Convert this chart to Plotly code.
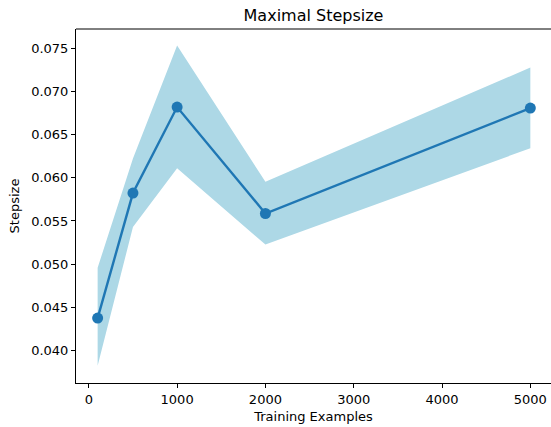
import plotly.graph_objects as go

train_examples = [100, 500, 1000, 2000, 5000]
mean_stepsize = [0.04375, 0.05823, 0.06819, 0.05586, 0.06807]
upper_bound = [0.04958, 0.06224, 0.07531, 0.05954, 0.07277]
lower_bound = [0.03823, 0.05430, 0.06109, 0.05227, 0.06342]
x_ticks = [0, 1000, 2000, 3000, 4000, 5000]
y_ticks = [0.040, 0.045, 0.050, 0.055, 0.060, 0.065, 0.070, 0.075]

W, H = 551, 427
ML, MR, MT, MB = 76, 0, 29, 44

font_family = "DejaVu Sans"
fig = go.Figure()

# confidence band
fig.add_trace(go.Scatter(
    x=train_examples + train_examples[::-1],
    y=upper_bound + lower_bound[::-1],
    fill="toself", fillcolor="#add8e6",
    line=dict(width=0, color="#add8e6"),
    mode="lines", hoverinfo="skip", showlegend=False,
))

fig.add_trace(go.Scatter(
    x=train_examples, y=mean_stepsize,
    mode="lines+markers",
    line=dict(color="#1f77b4", width=2.4),
    marker=dict(color="#1f77b4", size=11),
    showlegend=False,
))

axis_common = dict(
    showgrid=False, zeroline=False,
    showline=True, linecolor="black", linewidth=1,
    ticks="outside", ticklen=4, tickwidth=1, tickcolor="black",
    tickfont=dict(family=font_family, size=13, color="black"),
)

fig.update_layout(
    width=W, height=H, autosize=False,
    margin=dict(l=ML, r=MR, t=MT, b=MB, pad=0),
    paper_bgcolor="white", plot_bgcolor="white",
    font=dict(family=font_family, color="black"),
    title=dict(
        text="Maximal Stepsize",
        font=dict(family=font_family, size=16, color="black"),
        x=0.5, xref="paper", xanchor="center",
        y=1 - 15.5 / H, yref="container", yanchor="middle",
    ),
    xaxis=dict(
        **axis_common,
        range=[-145, 5234],
        tickvals=x_ticks,
        ticktext=[str(v) for v in x_ticks],
        title=dict(text="Training Examples",
                   font=dict(family=font_family, size=13, color="black"),
                   standoff=6),
    ),
    yaxis=dict(
        **axis_common,
        range=[0.03623, 0.07723],
        tickvals=y_ticks,
        ticktext=[f"{v:.3f}" for v in y_ticks],
        title=dict(text="Stepsize",
                   font=dict(family=font_family, size=13, color="black"),
                   standoff=8),
    ),
    shapes=[dict(type="line", xref="paper", yref="paper",
                 x0=0, x1=1, y0=1, y1=1,
                 line=dict(color="black", width=1))],
)

fig.write_html("out.html")
